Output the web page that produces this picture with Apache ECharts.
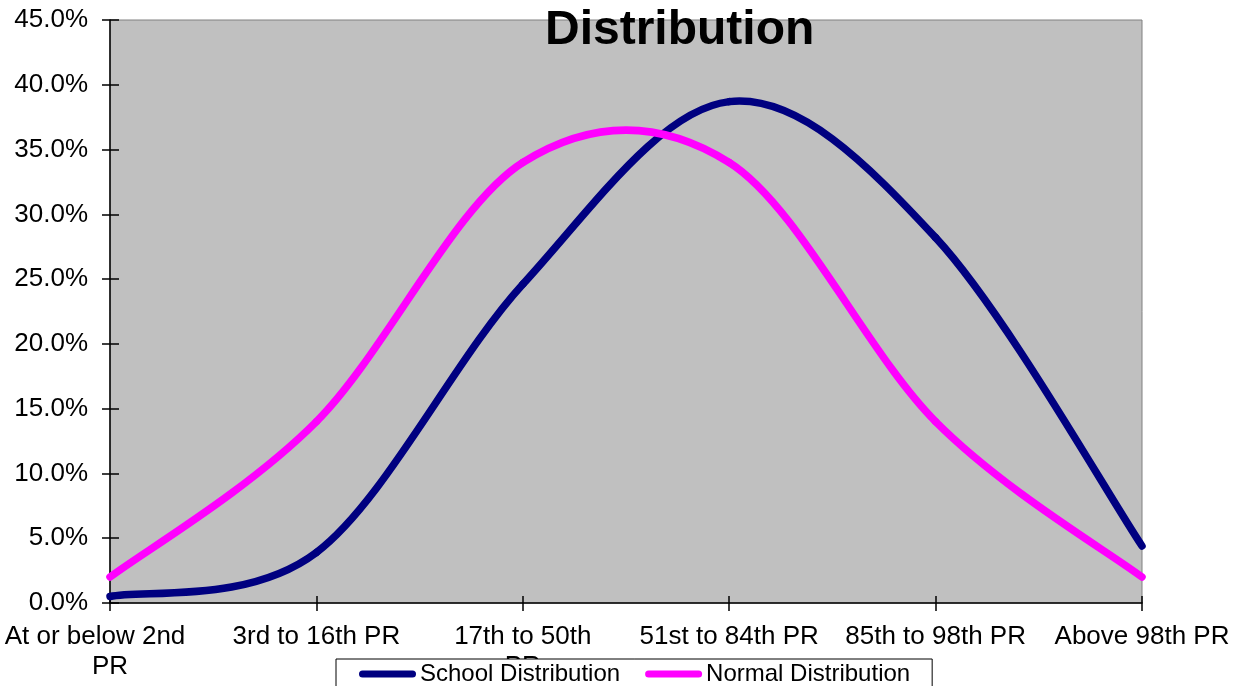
<!DOCTYPE html>
<html>
<head>
<meta charset="utf-8">
<script src="https://cdn.jsdelivr.net/npm/echarts@6/dist/echarts.min.js"></script>
<style>
html,body{margin:0;padding:0;background:#fff;}
#c{width:1242px;height:686px;}
</style>
</head>
<body>
<div id="c"></div>
<script>
const categories = ["At or below 2nd\nPR", "3rd to 16th PR", "17th to 50th\nPR", "51st to 84th PR", "85th to 98th PR", "Above 98th PR"];
const schoolValues = [0.5, 3.9, 24.6, 38.7, 28.2, 4.4];
const normalValues = [2.0, 14.0, 34.0, 34.0, 14.0, 2.0];
const yTicks = [0, 5, 10, 15, 20, 25, 30, 35, 40, 45];

const FONT = "'Liberation Sans', Arial, sans-serif";
const chart = echarts.init(document.getElementById('c'), null, {renderer: 'canvas'});
const iconPath = 'path://M3.5,0 L53.5,0 A3.5,3.5 0 0 1 53.5,7 L3.5,7 A3.5,3.5 0 0 1 3.5,0 Z';
const LINE_W = 7.5;

// Excel-style (Catmull-Rom) smoothed line drawn segment by segment, through the axes' scales
function splineSeries(name, values, color) {
  return {
    name: name,
    type: 'custom',
    coordinateSystem: 'cartesian2d',
    xAxisIndex: 0,
    yAxisIndex: 0,
    itemStyle: {color: color},
    encode: {x: 0, y: 1},
    data: values.map((v, i) => [i, v]),
    renderItem: function (params, api) {
      const i = params.dataIndex;
      const n = values.length;
      if (i >= n - 1) return null;
      const pt = k => {
        const kk = Math.max(0, Math.min(n - 1, k));
        return api.coord([api.value(0, kk), api.value(1, kk)]);
      };
      const p0 = pt(i - 1), p1 = pt(i), p2 = pt(i + 1), p3 = pt(i + 2);
      return {
        type: 'bezierCurve',
        shape: {
          x1: p1[0], y1: p1[1],
          cpx1: p1[0] + (p2[0] - p0[0]) / 6, cpy1: p1[1] + (p2[1] - p0[1]) / 6,
          cpx2: p2[0] - (p3[0] - p1[0]) / 6, cpy2: p2[1] - (p3[1] - p1[1]) / 6,
          x2: p2[0], y2: p2[1]
        },
        style: {fill: null, stroke: color, lineWidth: LINE_W, lineCap: 'round', lineJoin: 'round'}
      };
    }
  };
}

chart.setOption({
  animation: false,
  backgroundColor: '#ffffff',
  textStyle: {fontFamily: FONT},
  title: {
    text: 'Distribution',
    left: 540,
    top: 2,
    textStyle: {fontSize: 48, fontWeight: 'bold', color: '#000', fontFamily: FONT}
  },
  legend: {
    left: 336,
    top: 659,
    orient: 'horizontal',
    backgroundColor: '#ffffff',
    borderColor: '#000',
    borderWidth: 1,
    padding: [3, 22, 12, 23],
    itemWidth: 57,
    itemHeight: 7,
    itemGap: 25,
    textStyle: {fontSize: 24, color: '#000', fontFamily: FONT, padding: [0, 0, 0, -1]},
    data: [
      {name: 'School Distribution', icon: iconPath},
      {name: 'Normal Distribution', icon: iconPath}
    ]
  },
  grid: {
    left: 110, right: 100, top: 20, bottom: 83,
    show: true, backgroundColor: '#C0C0C0', borderColor: '#808080', borderWidth: 1
  },
  xAxis: [{
    type: 'category',
    data: categories,
    boundaryGap: false,
    axisLine: {show: true, lineStyle: {color: '#000', width: 1.5}},
    axisTick: {show: true, inside: false, length: 8, lineStyle: {color: '#000', width: 1.5}},
    axisLabel: {
      fontSize: 26, color: '#000', fontFamily: FONT, margin: 19, lineHeight: 30, interval: 0,
      formatter: function (value, index) {
        if (index !== 0) return value;
        const parts = value.split('\n');
        return '{s|' + parts[0] + '}\n{n|' + parts.slice(1).join(' ') + '}';
      },
      rich: {
        s: {fontSize: 26, lineHeight: 30, color: '#000', fontFamily: FONT, padding: [0, 30, 0, 0]},
        n: {fontSize: 26, lineHeight: 30, color: '#000', fontFamily: FONT}
      }
    },
    splitLine: {show: false}
  }, {
    type: 'category',
    data: categories,
    boundaryGap: false,
    position: 'bottom',
    axisLine: {show: false},
    axisTick: {show: true, inside: true, length: 7, lineStyle: {color: '#000', width: 1.5}},
    axisLabel: {show: false},
    splitLine: {show: false}
  }],
  yAxis: [{
    type: 'value',
    min: yTicks[0],
    max: yTicks[yTicks.length - 1],
    interval: 5,
    axisLine: {show: true, lineStyle: {color: '#000', width: 1.5}},
    axisTick: {show: true, inside: false, length: 8, lineStyle: {color: '#000', width: 1.5}},
    axisLabel: {fontSize: 26, color: '#000', fontFamily: FONT, margin: 22, formatter: v => v.toFixed(1) + '%'},
    splitLine: {show: false}
  }, {
    type: 'value',
    min: yTicks[0],
    max: yTicks[yTicks.length - 1],
    interval: 5,
    position: 'left',
    axisLine: {show: false},
    axisTick: {show: true, inside: true, length: 9, lineStyle: {color: '#000', width: 1.5}},
    axisLabel: {show: false},
    splitLine: {show: false}
  }],
  series: [
    splineSeries('School Distribution', schoolValues, '#000080'),
    splineSeries('Normal Distribution', normalValues, '#FF00FF')
  ]
});
</script>
</body>
</html>
